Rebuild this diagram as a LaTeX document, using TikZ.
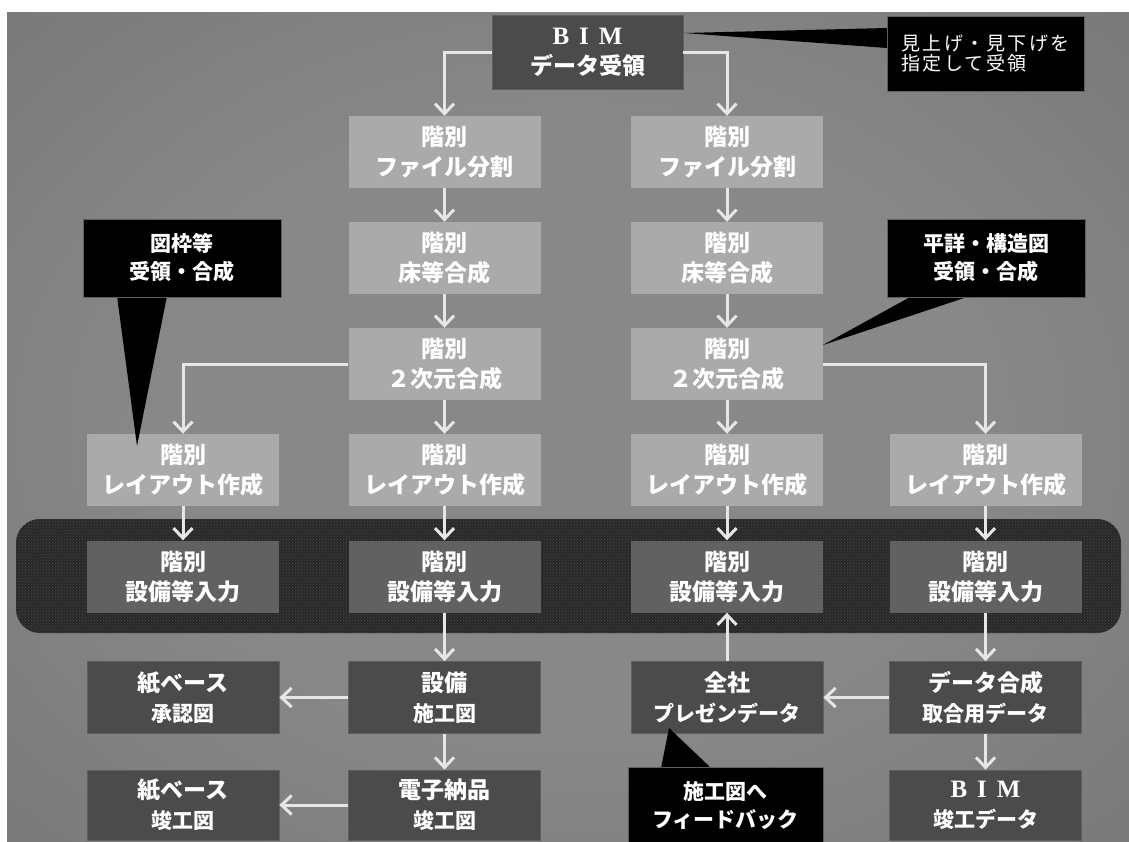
\documentclass[tikz,border=0pt]{standalone}
\usepackage{fontspec}
\newfontfamily\jp{Noto Sans CJK JP}
\newfontfamily\jpsp{Noto Sans CJK JP}[LetterSpace=12]
\newfontfamily\lser{Liberation Serif}
\usetikzlibrary{arrows.meta,patterns}
\definecolor{bgin}{HTML}{888888}
\definecolor{bgmid}{HTML}{6E6E6E}
\definecolor{bgout}{HTML}{4E4E4E}
\definecolor{lightbox}{HTML}{AAAAAA}
\definecolor{midbox}{HTML}{616161}
\definecolor{darkbox}{HTML}{4B4B4B}
\definecolor{darkedge}{HTML}{5F5F5F}
\definecolor{arrc}{HTML}{E6E6E6}
\definecolor{bandc}{HTML}{282828}
\definecolor{banddot}{HTML}{4C4C4C}
\pgfdeclareradialshading{bgshade}{\pgfpointorigin}{color(0bp)=(bgin); color(18bp)=(bgin); color(50bp)=(bgmid); color(72bp)=(bgout)}
\newcommand{\bimtext}{{\lser\bfseries\fontsize{25}{30}\selectfont B\hspace{10pt}I\hspace{10pt}M}}
\tikzset{
  box/.style={minimum width=192pt, minimum height=72pt, inner sep=0pt, align=center,
    text=white, font=\jp\bfseries\fontsize{23}{30}\selectfont},
  lbox/.style={box, fill=lightbox},
  mbox/.style={box, fill=midbox},
  dbox/.style={box, fill=darkbox, draw=darkedge, line width=0.8pt},
  callout/.style={fill=black, draw=darkedge, line width=0.6pt, inner sep=0pt, align=center,
    text=white, font=\jp\bfseries\fontsize{21}{28}\selectfont},
  arr/.style={draw=arrc, line width=3pt, -{Straight Barb[length=10pt,width=19pt]}}
}
\begin{document}
\begin{tikzpicture}[x=1pt,y=-1pt]
\useasboundingbox (0,0) rectangle (1129,841);
\fill[white] (0,0) rectangle (1129,841);
\shade[shading=bgshade] (7,12) rectangle (1129,841);
% band
\fill[bandc, rounded corners=24pt] (16,519) rectangle (1121,633);
\fill[pattern=crosshatch dots, pattern color=banddot, rounded corners=24pt] (16,519) rectangle (1121,633);
% top box
\node[dbox, minimum width=191pt, minimum height=74pt] (bim) at (587.5,52) {\bimtext\\データ受領};
% rows
\node[lbox] (f1) at (444.5,152) {階別\\ファイル分割};
\node[lbox] (f2) at (727,152) {階別\\ファイル分割};
\node[lbox] (y1) at (444.5,258) {階別\\床等合成};
\node[lbox] (y2) at (727,258) {階別\\床等合成};
\node[lbox] (d1) at (444.5,364) {階別\\２次元合成};
\node[lbox] (d2) at (727,364) {階別\\２次元合成};
\node[lbox] (l1) at (183,470) {階別\\レイアウト作成};
\node[lbox] (l2) at (444.5,470) {階別\\レイアウト作成};
\node[lbox] (l3) at (727,470) {階別\\レイアウト作成};
\node[lbox] (l4) at (985.5,470) {階別\\レイアウト作成};
\node[mbox] (s1) at (183,576.5) {階別\\設備等入力};
\node[mbox] (s2) at (444.5,576.5) {階別\\設備等入力};
\node[mbox] (s3) at (727,576.5) {階別\\設備等入力};
\node[mbox] (s4) at (985.5,576.5) {階別\\設備等入力};
\node[dbox] (p1) at (183,697.5) {紙ベース\\{\fontsize{21}{28}\selectfont 承認図}};
\node[dbox] (p2) at (444.5,697.5) {設備\\{\fontsize{21}{28}\selectfont 施工図}};
\node[dbox] (p3) at (727,697.5) {全社\\{\fontsize{21}{28}\selectfont プレゼンデータ}};
\node[dbox] (p4) at (985.5,697.5) {データ合成\\{\fontsize{21}{28}\selectfont 取合用データ}};
\node[dbox, minimum height=70pt] (k1) at (183,805) {紙ベース\\{\fontsize{21}{28}\selectfont 竣工図}};
\node[dbox, minimum height=70pt] (k2) at (444.5,805) {電子納品\\{\fontsize{21}{28}\selectfont 竣工図}};
\node[dbox, minimum height=70pt] (k4) at (985.5,805) {\bimtext\\{\fontsize{21}{28}\selectfont 竣工データ}};
% arrows
\draw[arr] (bim.west) -| (f1.north);
\draw[arr] (bim.east) -| (f2.north);
\draw[arr] (f1) -- (y1);
\draw[arr] (f2) -- (y2);
\draw[arr] (y1) -- (d1);
\draw[arr] (y2) -- (d2);
\draw[arr] (d1.west) -| (l1.north);
\draw[arr] (d1) -- (l2);
\draw[arr] (d2) -- (l3);
\draw[arr] (d2.east) -| (l4.north);
\draw[arr] (l1) -- (s1);
\draw[arr] (l2) -- (s2);
\draw[arr] (l3) -- (s3);
\draw[arr] (l4) -- (s4);
\draw[arr] (s2) -- (p2);
\draw[arr] (p3) -- (s3);
\draw[arr] (s4) -- (p4);
\draw[arr] (p2) -- (p1);
\draw[arr] (p4) -- (p3);
\draw[arr] (p2) -- (k2);
\draw[arr] (p4) -- (k4);
\draw[arr] (k2) -- (k1);
% callouts
\fill[black] (887,28) -- (684,33) -- (887,48) -- cycle;
\node[callout, minimum width=197pt, minimum height=75pt, align=left,
  font=\jpsp\fontsize{19}{20}\selectfont] (cA) at (985.5,53.5) {見上げ・見下げを\\指定して受領};
\fill[black] (117,296) -- (137,446) -- (167,296) -- cycle;
\node[callout, minimum width=198pt, minimum height=78pt] (cB) at (182,258) {図枠等\\受領・合成};
\fill[black] (912,296) -- (823,345) -- (970,296) -- cycle;
\node[callout, minimum width=198pt, minimum height=78pt] (cC) at (986,258) {平詳・構造図\\受領・合成};
\fill[black] (661,768) -- (669,728) -- (711,768) -- cycle;
\node[callout, minimum width=195pt, minimum height=78pt] (cD) at (725.5,806) {施工図へ\\フィードバック};
\end{tikzpicture}
\end{document}
